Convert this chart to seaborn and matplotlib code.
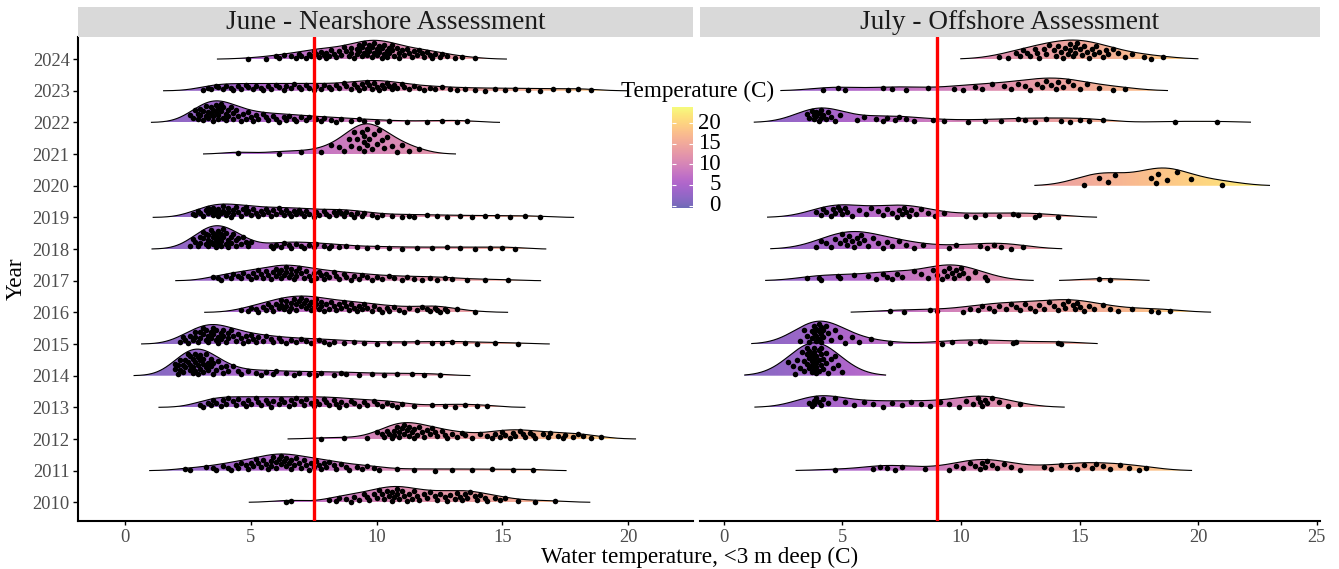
import numpy as np
import pandas as pd
import matplotlib
matplotlib.use("Agg")
import matplotlib.pyplot as plt
from matplotlib.colors import Normalize
from matplotlib.patches import Polygon, Rectangle
from matplotlib.transforms import blended_transform_factory
import seaborn as sns

# ---------------- June (nearshore) surface temperatures, deg C ----------------
june_2024 = [4.9, 5.6, 6.0, 6.1, 6.3, 6.6, 6.8, 6.9, 7.0, 7.2, 7.3, 7.4, 7.5, 7.6, 7.7, 7.8,
             7.9, 8.0, 8.0, 8.1, 8.2, 8.3, 8.4, 8.5, 8.6, 8.7, 8.8, 8.9, 9.0, 9.0, 9.1,
             9.2, 9.2, 9.3, 9.3, 9.4, 9.4, 9.5, 9.5, 9.6, 9.6, 9.7, 9.7, 9.8, 9.8, 9.9,
             9.9, 10.0, 10.0, 10.1, 10.1, 10.2, 10.2, 10.3, 10.3, 10.4, 10.4, 10.5, 10.5,
             10.6, 10.6, 10.7, 10.8, 10.9, 10.9, 11.0, 11.1, 11.2, 11.3, 11.4, 11.5, 11.6,
             11.7, 11.8, 11.9, 12.0, 12.1, 12.2, 12.3, 12.5, 12.6, 12.8, 13.1, 13.4, 13.9]
june_2023 = [3.1, 3.3, 3.4, 3.6, 3.7, 3.9, 4.0, 4.2, 4.3, 4.5, 4.6, 4.8, 4.9, 5.1, 5.2,
             5.4, 5.5, 5.7, 5.8, 6.0, 6.1, 6.3, 6.4, 6.6, 6.7, 6.9, 7.0, 7.2, 7.3, 7.5,
             7.6, 7.8, 7.9, 8.1, 8.2, 8.4, 8.5, 8.7, 8.8, 9.0, 9.1, 9.2, 9.3, 9.4, 9.5,
             9.6, 9.7, 9.8, 9.9, 10.0, 10.1, 10.2, 10.3, 10.4, 10.5, 10.6, 10.7, 10.8,
             11.0, 11.1, 11.3, 11.5, 11.7, 11.9, 12.1, 12.3, 12.6, 12.9, 13.2, 13.5, 13.9,
             14.3, 14.7, 15.1, 15.5, 16.0, 16.5, 17.0, 17.6, 18.0, 18.5]
june_2022 = [2.6, 2.7, 2.8, 2.9, 2.9, 3.0, 3.0, 3.1, 3.1, 3.2, 3.2, 3.3, 3.3, 3.4, 3.4,
             3.5, 3.5, 3.5, 3.6, 3.6, 3.7, 3.7, 3.7, 3.8, 3.8, 3.9, 3.9, 4.0, 4.0, 4.1,
             4.1, 4.2, 4.3, 4.3, 4.4, 4.5, 4.6, 4.7, 4.8, 4.9, 5.0, 5.1, 5.2, 5.3, 5.5,
             5.6, 5.7, 5.9, 6.0, 6.1, 6.3, 6.4, 6.5, 6.7, 6.8, 7.0, 7.2, 7.3, 7.6, 7.8,
             7.9, 8.2, 8.4, 8.6, 9.0, 9.3, 9.5, 10.0, 10.5, 11.2, 12.0, 12.6, 13.2, 13.6]
june_2021 = [4.5, 6.1, 7.0, 7.8, 8.2, 8.5, 8.7, 8.9, 9.0, 9.1, 9.2, 9.3, 9.4, 9.5, 9.5,
             9.5, 9.6, 9.6, 9.7, 9.8, 9.9, 10.0, 10.1, 10.2, 10.3, 10.4, 10.6, 10.8,
             11.0, 11.3, 11.7]
june_2019 = [2.7, 2.8, 2.9, 3.0, 3.1, 3.2, 3.3, 3.3, 3.4, 3.5, 3.5, 3.6, 3.7, 3.7, 3.8,
             3.9, 3.9, 4.0, 4.1, 4.1, 4.2, 4.3, 4.3, 4.4, 4.5, 4.6, 4.7, 4.8, 4.8, 4.9,
             5.0, 5.1, 5.2, 5.3, 5.4, 5.5, 5.6, 5.7, 5.8, 5.9, 6.0, 6.1, 6.2, 6.3, 6.4,
             6.5, 6.6, 6.7, 6.8, 6.9, 7.0, 7.1, 7.2, 7.3, 7.5, 7.6, 7.7, 7.9, 8.0, 8.1,
             8.3, 8.4, 8.5, 8.6, 8.7, 8.8, 9.0, 9.1, 9.2, 9.4, 9.5, 9.8, 10.0, 10.2,
             10.6, 11.0, 11.3, 11.5, 12.0, 12.4, 12.8, 13.3, 13.8, 14.3, 14.8, 15.3,
             15.9, 16.5]
june_2018 = [2.6, 2.7, 2.8, 2.9, 3.0, 3.0, 3.1, 3.1, 3.2, 3.2, 3.3, 3.3, 3.3, 3.4, 3.4,
             3.5, 3.5, 3.5, 3.6, 3.6, 3.6, 3.7, 3.7, 3.7, 3.8, 3.8, 3.8, 3.9, 3.9, 4.0,
             4.0, 4.1, 4.1, 4.2, 4.2, 4.3, 4.4, 4.4, 4.5, 4.6, 4.7, 4.8, 4.9, 5.0, 5.8,
             5.9, 6.0, 6.2, 6.3, 6.5, 6.6, 6.8, 7.0, 7.1, 7.3, 7.5, 7.6, 7.9, 8.1, 8.2,
             8.5, 8.8, 9.2, 9.6, 10.0, 10.5, 11.0, 11.6, 12.2, 12.8, 13.3, 13.9, 14.5,
             15.0, 15.5]
june_2017 = [3.5, 3.7, 3.8, 4.0, 4.2, 4.3, 4.5, 4.6, 4.7, 4.9, 5.0, 5.1, 5.2, 5.3, 5.4,
             5.5, 5.6, 5.7, 5.8, 5.9, 6.0, 6.0, 6.1, 6.2, 6.2, 6.3, 6.4, 6.4, 6.5, 6.6,
             6.6, 6.7, 6.8, 6.8, 6.9, 7.0, 7.1, 7.2, 7.3, 7.4, 7.5, 7.6, 7.7, 7.8, 7.9,
             8.0, 8.1, 8.3, 8.4, 8.5, 8.7, 8.8, 9.0, 9.1, 9.3, 9.4, 9.6, 9.8, 10.0, 10.2,
             10.5, 10.7, 11.0, 11.2, 11.5, 11.8, 12.1, 12.4, 12.7, 13.0, 13.6, 14.3, 15.2]
june_2016 = [4.6, 4.9, 5.0, 5.2, 5.3, 5.5, 5.6, 5.7, 5.8, 5.9, 6.0, 6.1, 6.2, 6.2, 6.3,
             6.4, 6.4, 6.5, 6.6, 6.6, 6.7, 6.8, 6.8, 6.9, 7.0, 7.0, 7.1, 7.2, 7.2, 7.3,
             7.4, 7.4, 7.5, 7.6, 7.6, 7.7, 7.8, 7.8, 7.9, 8.0, 8.1, 8.2, 8.3, 8.4, 8.5,
             8.6, 8.7, 8.8, 8.9, 9.0, 9.1, 9.2, 9.3, 9.4, 9.5, 9.6, 9.8, 9.9, 10.1, 10.2,
             10.4, 10.5, 10.7, 10.9, 11.1, 11.3, 11.6, 11.8, 12.0, 12.1, 12.3, 12.4, 12.5,
             12.7, 12.8, 13.2, 13.9]
june_2015 = [2.2, 2.3, 2.4, 2.5, 2.6, 2.7, 2.8, 2.8, 2.9, 3.0, 3.0, 3.1, 3.1, 3.2, 3.2,
             3.3, 3.3, 3.4, 3.4, 3.5, 3.5, 3.6, 3.6, 3.7, 3.7, 3.8, 3.8, 3.9, 3.9, 4.0,
             4.1, 4.1, 4.2, 4.3, 4.4, 4.5, 4.6, 4.7, 4.8, 4.9, 5.0, 5.1, 5.2, 5.3, 5.5,
             5.6, 5.8, 5.9, 6.1, 6.2, 6.4, 6.6, 6.8, 7.0, 7.2, 7.4, 7.7, 7.9, 8.1, 8.3,
             8.7, 9.1, 9.5, 10.0, 10.5, 11.1, 11.6, 12.2, 12.6, 13.0, 13.5, 14.0, 14.7,
             15.6]
june_2014 = [2.0, 2.0, 2.1, 2.1, 2.2, 2.2, 2.3, 2.3, 2.4, 2.4, 2.5, 2.5, 2.6, 2.6, 2.6,
             2.7, 2.7, 2.7, 2.8, 2.8, 2.8, 2.9, 2.9, 2.9, 3.0, 3.0, 3.0, 3.1, 3.1, 3.1,
             3.2, 3.2, 3.3, 3.3, 3.4, 3.4, 3.5, 3.5, 3.6, 3.7, 3.8, 3.9, 4.0, 4.1, 4.3,
             4.5, 4.6, 4.9, 5.2, 5.4, 5.6, 5.9, 6.0, 6.4, 6.7, 6.9, 7.3, 7.6, 7.8, 8.3,
             8.6, 8.8, 9.3, 9.8, 10.3, 10.8, 11.4, 11.9, 12.5]
june_2013 = [3.0, 3.1, 3.3, 3.4, 3.5, 3.6, 3.8, 3.9, 4.0, 4.1, 4.3, 4.4, 4.5, 4.7, 4.8,
             4.9, 5.0, 5.2, 5.3, 5.4, 5.6, 5.7, 5.8, 5.9, 6.1, 6.2, 6.3, 6.5, 6.6, 6.7,
             6.8, 7.0, 7.1, 7.2, 7.4, 7.5, 7.6, 7.7, 7.9, 8.0, 8.1, 8.3, 8.4, 8.5, 8.6,
             8.8, 9.0, 9.1, 9.3, 9.5, 9.6, 9.9, 10.0, 10.2, 10.4, 10.6, 10.8, 11.0, 11.5,
             12.2, 12.7, 13.1, 13.5, 14.0, 14.4]
june_2012 = [7.8, 8.7, 9.6, 10.0, 10.2, 10.3, 10.4, 10.5, 10.6, 10.7, 10.7, 10.8, 10.9,
             10.9, 11.0, 11.1, 11.1, 11.2, 11.3, 11.3, 11.4, 11.5, 11.5, 11.6, 11.7,
             11.8, 11.9, 12.0, 12.1, 12.2, 12.3, 12.4, 12.6, 12.7, 12.8, 13.0, 13.2,
             13.4, 13.5, 13.8, 14.1, 14.4, 14.6, 14.7, 14.9, 15.0, 15.1, 15.3, 15.4,
             15.5, 15.7, 15.8, 15.9, 16.1, 16.2, 16.3, 16.6, 16.8, 16.9, 17.2, 17.4,
             17.5, 17.8, 18.0, 18.2, 18.5, 18.9]
june_2011 = [2.4, 2.6, 3.2, 3.5, 3.6, 3.9, 4.1, 4.2, 4.4, 4.5, 4.6, 4.8, 4.9, 5.0, 5.1,
             5.2, 5.3, 5.4, 5.5, 5.6, 5.7, 5.8, 5.8, 5.9, 6.0, 6.0, 6.1, 6.2, 6.2, 6.3,
             6.4, 6.4, 6.5, 6.6, 6.6, 6.7, 6.8, 6.9, 7.0, 7.1, 7.2, 7.3, 7.4, 7.5, 7.6,
             7.7, 7.8, 7.9, 8.0, 8.1, 8.3, 8.4, 8.6, 8.8, 8.9, 9.2, 9.4, 9.6, 9.9, 10.1,
             10.8, 11.5, 12.3, 13.0, 13.8, 14.6, 15.4, 16.2]
june_2010 = [6.4, 6.6, 8.1, 8.4, 8.5, 8.8, 9.0, 9.1, 9.3, 9.5, 9.6, 9.7, 9.9, 10.0, 10.1,
             10.2, 10.3, 10.4, 10.5, 10.6, 10.6, 10.7, 10.8, 10.8, 10.9, 11.0, 11.1,
             11.2, 11.3, 11.4, 11.5, 11.6, 11.7, 11.9, 12.0, 12.1, 12.3, 12.4, 12.5,
             12.7, 12.8, 12.9, 13.1, 13.2, 13.3, 13.4, 13.5, 13.6, 13.7, 13.9, 14.0,
             14.1, 14.3, 14.4, 14.7, 14.9, 15.1, 15.6, 16.3, 17.1]

# ---------------- July (offshore) surface temperatures, deg C ----------------
july_2024 = [11.6, 12.0, 12.3, 12.5, 12.6, 12.8, 12.9, 13.1, 13.2, 13.3, 13.5, 13.6, 13.7,
             13.9, 14.0, 14.1, 14.2, 14.3, 14.4, 14.5, 14.6, 14.6, 14.7, 14.8, 14.8,
             14.9, 15.0, 15.1, 15.2, 15.3, 15.4, 15.5, 15.6, 15.7, 15.8, 16.0, 16.1,
             16.2, 16.4, 16.6, 16.9, 17.2, 17.7, 18.0, 18.5]
july_2023 = [4.2, 4.8, 5.1, 6.7, 7.1, 7.7, 8.6, 9.7, 10.1, 10.6, 10.9, 11.3, 11.8, 12.1,
             12.4, 12.7, 12.9, 13.2, 13.4, 13.6, 13.8, 14.0, 14.1, 14.3, 14.5, 14.7,
             15.0, 15.3, 15.8, 16.4, 16.9]
july_2022 = [3.5, 3.6, 3.7, 3.8, 3.8, 3.9, 3.9, 4.0, 4.0, 4.1, 4.1, 4.2, 4.3, 4.4, 4.5,
             4.7, 4.9, 5.6, 5.9, 6.4, 6.7, 6.9, 7.2, 7.4, 7.7, 8.0, 8.8, 9.3, 10.3, 11.0,
             11.7, 12.4, 12.7, 13.1, 13.6, 14.2, 14.6, 15.0, 15.4, 16.0, 19.0, 20.8]
july_2020 = [15.2, 15.8, 16.2, 16.5, 18.0, 18.2, 18.3, 18.7, 19.1, 19.7, 21.0]
july_2019 = [3.9, 4.1, 4.2, 4.3, 4.5, 4.6, 4.7, 4.8, 4.9, 5.0, 5.1, 5.2, 5.4, 5.7, 6.0,
             6.2, 6.5, 6.7, 6.9, 7.1, 7.3, 7.4, 7.5, 7.6, 7.7, 7.8, 7.9, 8.1, 8.3, 8.6,
             8.9, 9.3, 10.2, 10.6, 11.0, 11.6, 12.2, 12.4, 13.1, 13.3, 14.1]
july_2018 = [3.9, 4.1, 4.3, 4.5, 4.7, 4.9, 5.0, 5.1, 5.2, 5.3, 5.4, 5.5, 5.6, 5.7, 5.8,
             5.9, 6.1, 6.3, 6.5, 6.7, 6.9, 7.1, 7.4, 7.7, 8.0, 8.4, 9.5, 9.8, 10.8, 11.1,
             11.4, 11.7, 12.1, 12.6]
july_2017 = [3.5, 4.0, 4.1, 4.8, 4.9, 5.5, 6.1, 6.4, 6.7, 6.9, 7.1, 7.3, 7.5, 8.0, 8.3,
             8.6, 8.8, 9.0, 9.2, 9.3, 9.4, 9.5, 9.6, 9.7, 9.8, 9.9, 10.0, 10.1, 10.3,
             10.6, 11.0, 11.1, 15.8, 16.3]
july_2016 = [7.0, 7.6, 8.7, 9.0, 10.1, 10.4, 10.7, 10.9, 11.2, 11.4, 11.6, 11.9, 12.1,
             12.3, 12.5, 12.7, 12.9, 13.1, 13.3, 13.5, 13.7, 13.9, 14.1, 14.3, 14.4,
             14.5, 14.7, 14.8, 14.9, 15.0, 15.2, 15.4, 15.6, 16.0, 16.3, 16.6, 17.2,
             18.0, 18.3, 18.8]
july_2015 = [3.2, 3.4, 3.5, 3.6, 3.7, 3.7, 3.8, 3.8, 3.9, 3.9, 3.9, 4.0, 4.0, 4.0, 4.1,
             4.1, 4.1, 4.2, 4.2, 4.3, 4.4, 4.5, 4.7, 4.9, 5.1, 5.4, 5.7, 6.2, 7.0, 9.2,
             9.6, 10.4, 10.8, 11.0, 12.2, 12.3, 14.1, 14.2]
july_2014 = [2.7, 2.9, 3.0, 3.1, 3.2, 3.3, 3.4, 3.4, 3.5, 3.5, 3.5, 3.6, 3.6, 3.6, 3.7,
             3.7, 3.7, 3.7, 3.8, 3.8, 3.8, 3.8, 3.9, 3.9, 3.9, 3.9, 4.0, 4.0, 4.0, 4.1,
             4.1, 4.1, 4.2, 4.2, 4.3, 4.3, 4.4, 4.5, 4.6, 4.7, 4.8, 5.0]
july_2013 = [3.6, 3.7, 3.8, 3.8, 3.9, 4.0, 4.1, 4.2, 4.4, 4.7, 5.1, 5.5, 5.9, 6.3, 6.7,
             7.1, 7.5, 7.9, 8.3, 8.7, 9.1, 9.5, 9.9, 10.2, 10.5, 10.7, 10.8, 10.9, 11.0,
             11.1, 11.3, 11.6, 12.0, 12.5]
july_2011 = [4.7, 6.3, 6.6, 6.9, 7.2, 7.5, 8.5, 9.5, 9.8, 10.1, 10.4, 10.6, 10.8, 10.9,
             11.0, 11.1, 11.3, 11.5, 11.8, 12.1, 12.5, 13.5, 13.8, 14.2, 14.6, 14.9,
             15.2, 15.5, 15.7, 16.0, 16.3, 16.7, 17.1, 17.5, 17.8]

june_years = [2024, 2023, 2022, 2021, 2019, 2018, 2017, 2016, 2015, 2014, 2013, 2012, 2011, 2010]
june_samples = [june_2024, june_2023, june_2022, june_2021, june_2019, june_2018, june_2017,
                june_2016, june_2015, june_2014, june_2013, june_2012, june_2011, june_2010]
july_years = [2024, 2023, 2022, 2020, 2019, 2018, 2017, 2016, 2015, 2014, 2013, 2011]
july_samples = [july_2024, july_2023, july_2022, july_2020, july_2019, july_2018, july_2017,
                july_2016, july_2015, july_2014, july_2013, july_2011]

panel_titles = ["June - Nearshore Assessment", "July - Offshore Assessment"]
reference_temps = [7.5, 9.0]
year_ticks = list(range(2010, 2025))
june_xticks = [0, 5, 10, 15, 20]
july_xticks = [0, 5, 10, 15, 20, 25]
legend_ticks = [0, 5, 10, 15, 20]

sns.set_theme(style="white")
plt.rcParams["font.family"] = ["Liberation Serif", "DejaVu Serif"]

W, H = 1339, 569
fig = plt.figure(figsize=(W / 100, H / 100), dpi=100)


def fx(px):
    return px / W


def fy(py):
    return 1 - py / H


cmap = plt.get_cmap("plasma")
norm = Normalize(vmin=-0.6, vmax=23.95)
FILL_ALPHA = 0.6
HEIGHT_SCALE = 2.8       # year-rows per unit of density
TEXT_GREY = "#4d4d4d"


def kde(values, grid, bw):
    v = np.asarray(values, float)[:, None]
    z = (np.asarray(grid, float)[None, :] - v) / bw
    return np.exp(-0.5 * z * z).sum(axis=0) / (len(v) * bw * np.sqrt(2 * np.pi))


def draw_panel(ax, years, samples, bw, rel_min_height):
    allv = np.concatenate([np.asarray(s, float) for s in samples])
    grid = np.linspace(allv.min() - 3 * bw, allv.max() + 3 * bw, 900)
    rows = []
    for year, vals in zip(years, samples):
        dens = kde(vals, grid, bw)
        # trim tails below a fraction of each ridge's peak
        keep = np.flatnonzero(dens >= rel_min_height * dens.max())
        runs = np.split(keep, np.where(np.diff(keep) > 1)[0] + 1)
        z = 2 + (2030 - year) * 0.01
        for run in runs:
            xs = grid[run]
            ys = year + HEIGHT_SCALE * dens[run]
            outline = np.column_stack([np.r_[xs, xs[::-1]], np.r_[ys, np.full(len(xs), year)]])
            clip = Polygon(outline, closed=True, facecolor="none", edgecolor="none")
            ax.add_patch(clip)
            grad = np.linspace(xs[0], xs[-1], 256)[None, :]
            im = ax.imshow(grad, extent=[xs[0], xs[-1], year, ys.max()], origin="lower",
                           aspect="auto", cmap=cmap, norm=norm, alpha=FILL_ALPHA,
                           interpolation="bilinear", zorder=z)
            im.set_clip_path(clip)
            ax.plot(xs, ys, color="black", lw=0.8, zorder=z + 0.001,
                    solid_capstyle="butt")
        # jittered observations placed inside the ridge
        vals = np.asarray(vals, float)
        d_at = kde(vals, vals, bw)
        for i, (v, d) in enumerate(zip(vals, d_at)):
            u = ((i + 1) * 0.6180339887 + year * 0.37) % 1.0
            rows.append((v, year + (0.06 + 0.84 * u) * HEIGHT_SCALE * d))
    df = pd.DataFrame(rows, columns=["temp", "ypos"])
    sns.scatterplot(data=df, x="temp", y="ypos", ax=ax, color="black", s=16,
                    linewidth=0, legend=False, zorder=5)


ax_l = fig.add_axes([fx(78), fy(521), fx(693) - fx(78), (521 - 37) / H])
ax_r = fig.add_axes([fx(700), fy(521), fx(1320) - fx(700), (521 - 37) / H])

draw_panel(ax_l, june_years, june_samples, 0.63, 0.005)
draw_panel(ax_r, july_years, july_samples, 0.95, 0.02)

for ax, ref, xt, xlim in [(ax_l, reference_temps[0], june_xticks, (-1.867, 22.57)),
                          (ax_r, reference_temps[1], july_xticks, (-1.0, 25.13))]:
    ax.axvline(ref, color="#ff0000", lw=2.4, zorder=6)
    ax.set_xlim(*xlim)
    ax.set_ylim(2009.41, 2024.70)
    ax.set_xticks(xt)
    ax.set_xticklabels([str(t) for t in xt])
    ax.set_xlabel("")
    ax.set_ylabel("")
    ax.set_facecolor("white")
    for s in ax.spines.values():
        s.set_visible(False)
    ax.spines["bottom"].set_visible(True)
    ax.spines["bottom"].set_color("black")
    ax.spines["bottom"].set_linewidth(1.5)
    ax.tick_params(axis="x", which="major", bottom=True, length=3, width=1,
                   color="black", pad=3, labelsize=13.3, labelcolor=TEXT_GREY)

ax_l.spines["left"].set_visible(True)
ax_l.spines["left"].set_color("black")
ax_l.spines["left"].set_linewidth(1.5)
ax_l.set_yticks(year_ticks)
ax_l.set_yticklabels([str(y) for y in year_ticks])
ax_l.tick_params(axis="y", which="major", left=True, length=3.5, width=1,
                 color="black", pad=2.5, labelsize=13.3, labelcolor=TEXT_GREY)
ax_r.set_yticks([])

# facet strips
for (x0, x1), title in zip([(78, 693), (700, 1320)], panel_titles):
    fig.patches.append(Rectangle((fx(x0), fy(37)), fx(x1) - fx(x0), (37 - 7) / H,
                                 transform=fig.transFigure, facecolor="#d9d9d9",
                                 edgecolor="none", zorder=0))
    fig.text(fx((x0 + x1) / 2), fy(22.5), title, ha="center", va="center",
             fontsize=19.6, color="#1a1a1a")

# axis titles
fig.text(fx(699.5), fy(557), "Water temperature, <3 m deep (C)", ha="center",
         va="center", fontsize=16.7, color="black")
fig.text(fx(16), fy(279), "Year", ha="center", va="center", rotation=90,
         fontsize=16.7, color="black")

# colour bar legend
cax = fig.add_axes([fx(672), fy(208), fx(693) - fx(672), (208 - 107) / H])
bar = np.linspace(norm.vmin, norm.vmax, 300)[:, None]
cax.imshow(bar, extent=[0, 1, norm.vmin, norm.vmax], origin="lower", aspect="auto",
           cmap=cmap, norm=norm, alpha=FILL_ALPHA, interpolation="bilinear")
cax.hlines(legend_ticks, 0, 0.2, colors="white", lw=0.8)
cax.hlines(legend_ticks, 0.8, 1, colors="white", lw=0.8)
cax.set_xlim(0, 1)
cax.set_ylim(norm.vmin, norm.vmax)
cax.set_xticks([])
cax.set_yticks([])
for s in cax.spines.values():
    s.set_visible(False)
tr = blended_transform_factory(cax.transAxes, cax.transData)
for t in legend_ticks:
    cax.text((721 - 672) / (693 - 672), t, str(t), transform=tr, ha="right",
             va="center", fontsize=16.5, color="black")
fig.text(fx(697.5), fy(91), "Temperature (C)", ha="center", va="center",
         fontsize=16.7, color="black")

fig.savefig("out.png", dpi=100, facecolor="white")
